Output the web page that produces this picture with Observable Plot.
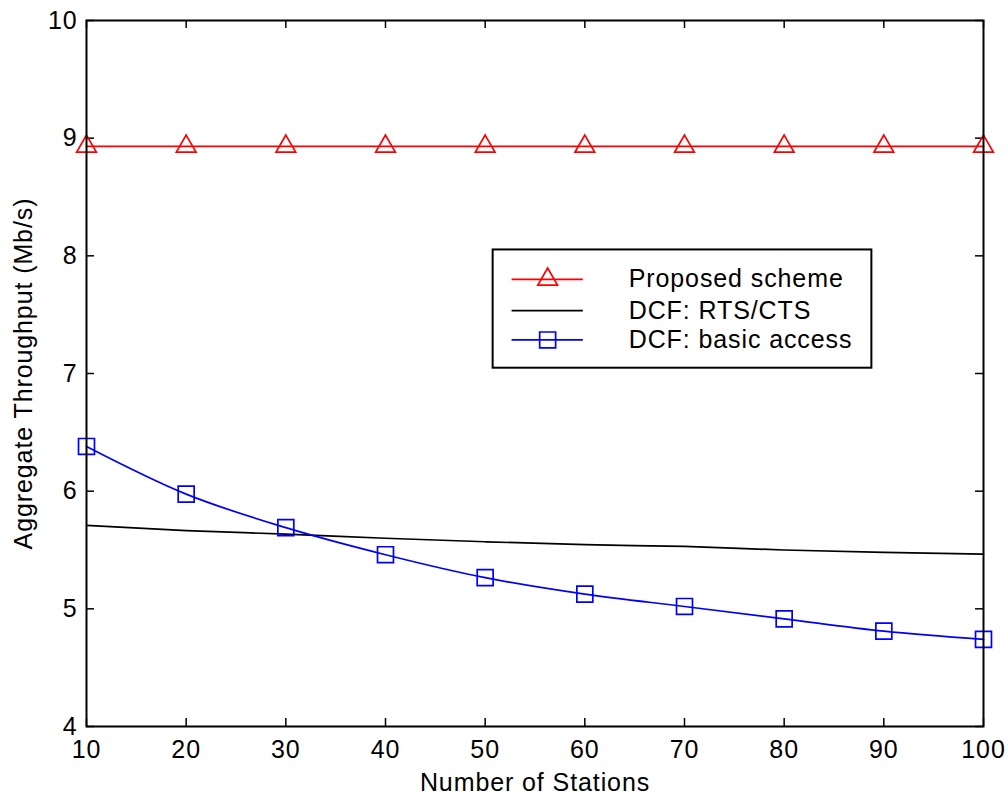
<!DOCTYPE html>
<html>
<head>
<meta charset="utf-8">
<script src="https://cdn.jsdelivr.net/npm/d3@7"></script>
<script src="https://cdn.jsdelivr.net/npm/@observablehq/plot@0.6"></script>
<style>
  html, body { margin: 0; padding: 0; background: #fff; }
  #chart svg text { letter-spacing: 0.9px; }
</style>
</head>
<body>
<div id="chart"></div>
<script>
// ---- data ----
const stations = [10, 20, 30, 40, 50, 60, 70, 80, 90, 100];
const proposed = [8.93, 8.93, 8.93, 8.93, 8.93, 8.93, 8.93, 8.93, 8.93, 8.93];
const rtsCts   = [5.71, 5.665, 5.635, 5.60, 5.57, 5.545, 5.53, 5.50, 5.48, 5.465];
const basic    = [6.38, 5.975, 5.69, 5.46, 5.265, 5.125, 5.02, 4.915, 4.81, 4.74];
const seriesNames = ["Proposed scheme", "DCF: RTS/CTS", "DCF: basic access"];
const xTicks = [10, 20, 30, 40, 50, 60, 70, 80, 90, 100];
const yTicks = [4, 5, 6, 7, 8, 9, 10];
const xLabel = "Number of Stations";
const yLabel = "Aggregate Throughput (Mb/s)";

// ---- layout ----
const W = 1008, H = 798;
const mL = 86, mR = 25, mT = 20, mB = 72;
const plotW = W - mL - mR, plotH = H - mT - mB;
const tickLen = 8;
const fs = 25;
const font = "'Liberation Sans', Arial, Helvetica, sans-serif";

const rows = (ys) => stations.map((x, i) => ({x, y: ys[i]}));
const pData = rows(proposed), rData = rows(rtsCts), bData = rows(basic);

// legend placement (in data units of the chart's scales)
const legendBox = [{x1: 50.8, x2: 88.8, y1: 7.045, y2: 8.05}];
const legendRows = [
  {name: seriesNames[0], color: "#ff0000", symbol: "triangle", ly: 7.80},
  {name: seriesNames[1], color: "#000000", symbol: null, ly: 7.535},
  {name: seriesNames[2], color: "#0000ff", symbol: "square", ly: 7.285}
];
const legLineX1 = 52.7, legLineX2 = 59.85, legMarkX = 56.27, legTextX = 64.4;

const chart = Plot.plot({
  width: W, height: H,
  marginLeft: mL, marginRight: mR, marginTop: mT, marginBottom: mB,
  style: {fontFamily: font, fontSize: fs + "px", background: "white", color: "black"},
  x: {domain: [10, 100]},
  y: {domain: [4, 10]},
  marks: [
    Plot.axisX({ticks: xTicks, tickSize: 0, tickPadding: 14, fontSize: fs, tickFormat: d3.format("d"), label: null}),
    Plot.axisY({ticks: yTicks, tickSize: 0, tickPadding: 9, fontSize: fs, tickFormat: d3.format("d"), label: null}),
    // inward ticks on all four sides
    Plot.tickX(xTicks, {x: d => d, stroke: "black", strokeWidth: 1.5, insetTop: plotH - tickLen}),
    Plot.tickX(xTicks, {x: d => d, stroke: "black", strokeWidth: 1.5, insetBottom: plotH - tickLen}),
    Plot.tickY(yTicks, {y: d => d, stroke: "black", strokeWidth: 1.5, insetRight: plotW - tickLen}),
    Plot.tickY(yTicks, {y: d => d, stroke: "black", strokeWidth: 1.5, insetLeft: plotW - tickLen}),
    // series
    Plot.line(rData, {x: "x", y: "y", stroke: "#000000", strokeWidth: 1.7, curve: "monotone-x"}),
    Plot.line(bData, {x: "x", y: "y", stroke: "#0000ff", strokeWidth: 1.7, curve: "monotone-x"}),
    Plot.dot(bData, {x: "x", y: "y", symbol: "square", r: 9, stroke: "#0000ff", strokeWidth: 1.7, fill: "none"}),
    Plot.line(pData, {x: "x", y: "y", stroke: "#ff0000", strokeWidth: 1.7}),
    Plot.dot(pData, {x: "x", y: "y", symbol: "triangle", r: 7.3, stroke: "#ff0000", strokeWidth: 1.7, fill: "none"}),
    // legend
    Plot.rect(legendBox, {x1: "x1", x2: "x2", y1: "y1", y2: "y2", fill: "white", stroke: "black", strokeWidth: 2}),
    Plot.ruleY(legendRows, {y: "ly", x1: legLineX1, x2: legLineX2, stroke: "color", strokeWidth: 1.7}),
    Plot.dot(legendRows.filter(d => d.symbol === "triangle"), {x: legMarkX, y: "ly", symbol: "triangle", r: 7.3, stroke: "color", strokeWidth: 1.7, fill: "none"}),
    Plot.dot(legendRows.filter(d => d.symbol === "square"), {x: legMarkX, y: "ly", symbol: "square", r: 9, stroke: "color", strokeWidth: 1.7, fill: "none"}),
    Plot.text(legendRows, {x: legTextX, y: "ly", text: "name", textAnchor: "start", fontSize: fs, fill: "black"}),
    // frame
    Plot.frame({stroke: "black", strokeWidth: 2}),
    // axis titles
    Plot.text([xLabel], {frameAnchor: "bottom", dy: 64, textAnchor: "middle", fontSize: fs, fill: "black"}),
    Plot.text([yLabel], {frameAnchor: "left", dx: -63, rotate: -90, textAnchor: "middle", fontSize: fs, fill: "black"})
  ]
});
document.getElementById("chart").appendChild(chart);
</script>
</body>
</html>
